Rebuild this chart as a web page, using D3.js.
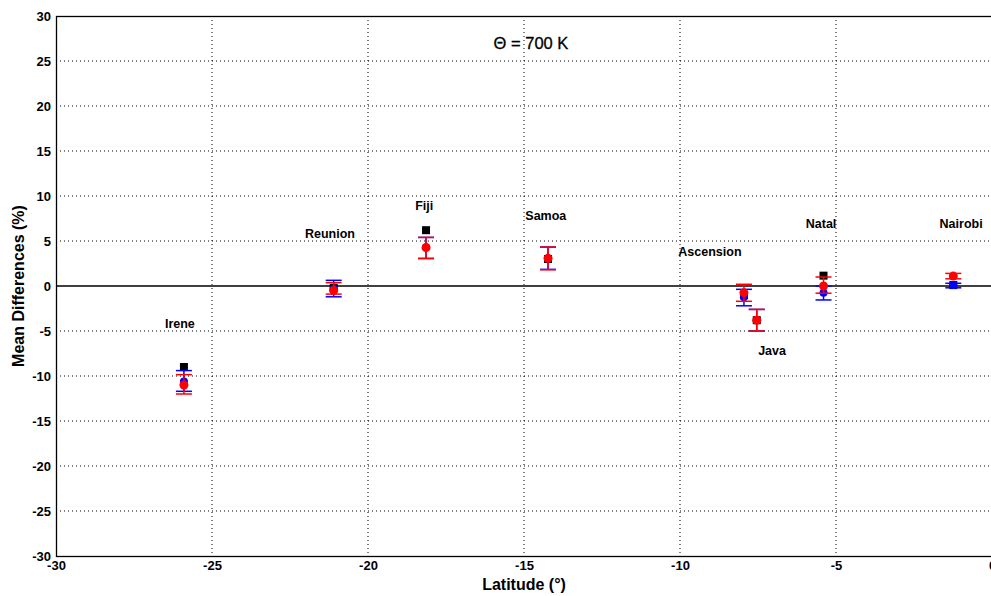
<!DOCTYPE html>
<html><head><meta charset="utf-8">
<script src="https://cdn.jsdelivr.net/npm/d3@7"></script>
<style>body{margin:0;background:#fff;}svg{display:block;}</style>
</head><body>
<svg id="c" width="991" height="596"></svg>
<script>
const stations = ["Irene","Reunion","Fiji","Samoa","Ascension","Java","Natal","Nairobi"];
const latitude = [-25.9,-21.1,-18.14,-14.23,-7.95,-7.54,-5.4,-1.24];
const blackVal = [-9.0,-0.2,6.2,3.0,-1.0,-3.8,1.15,0.1];
const blueVal = [-10.6,-0.33,4.3,3.05,-1.26,-3.8,-0.74,0.1];
const blueLo = [-11.7,-1.2,3.05,1.85,-2.2,-5.0,-1.55,-0.2];
const blueHi = [-9.4,0.63,5.4,4.33,-0.37,-2.6,0.0,0.3];
const redVal = [-11.0,-0.5,4.26,3.07,-0.74,-3.8,0.0,1.1];
const redLo = [-12.0,-0.9,3.07,1.8,-1.7,-5.0,-0.8,0.8];
const redHi = [-9.85,0.37,5.4,4.33,0.19,-2.6,1.0,1.4];
const labelPos = [[-26.03,-4.67],[-21.22,5.33],[-18.2,8.44],[-14.3,7.33],[-9.04,3.33],[-7.05,-7.67],[-5.48,6.44],[-0.99,6.44]];
const xTicks = [-30,-25,-20,-15,-10,-5,0];
const yTicks = [-30,-25,-20,-15,-10,-5,0,5,10,15,20,25,30];
const title = "\u0398 = 700 K";

const svg = d3.select("#c");
const m = {l:56, t:16, r:992, b:556};
const x = d3.scaleLinear().domain([-30,0]).range([m.l,m.r]);
const y = d3.scaleLinear().domain([-30,30]).range([m.b,m.t]);
const tickFont = "'Liberation Sans Narrow','Liberation Sans',Arial,sans-serif";

// grid
const g = svg.append("g");
g.selectAll(".gx").data(xTicks.slice(1,-1)).join("line")
  .attr("x1",d=>x(d)).attr("x2",d=>x(d)).attr("y1",m.t).attr("y2",m.b)
  .attr("stroke","#000").attr("stroke-width",1).attr("stroke-dasharray","1,3");
g.selectAll(".gy").data(yTicks.slice(1,-1).filter(d=>d!==0)).join("line")
  .attr("x1",m.l).attr("x2",m.r).attr("y1",d=>y(d)).attr("y2",d=>y(d))
  .attr("stroke","#000").attr("stroke-width",1).attr("stroke-dasharray","1,3");

// zero line
svg.append("line").attr("x1",m.l).attr("x2",m.r).attr("y1",y(0)).attr("y2",y(0))
  .attr("stroke","#000").attr("stroke-width",1.3);

// frame
svg.append("rect").attr("x",m.l+0.5).attr("y",m.t+0.5).attr("width",m.r-m.l).attr("height",m.b-m.t)
  .attr("fill","none").attr("stroke","#000").attr("stroke-width",1.3);

// axes
const fmt = d => String(d);
const xa = svg.append("g").attr("transform",`translate(0,${m.b})`)
  .call(d3.axisBottom(x).tickValues(xTicks).tickFormat(fmt).tickSize(0).tickPadding(5));
xa.select(".domain").remove();
xa.selectAll("text").attr("font-family",tickFont).attr("font-size",13).attr("font-weight","bold").attr("fill","#000");
const ya = svg.append("g").attr("transform",`translate(${m.l},0)`)
  .call(d3.axisLeft(y).tickValues(yTicks).tickFormat(fmt).tickSize(0).tickPadding(5));
ya.select(".domain").remove();
ya.selectAll("text").attr("font-family",tickFont).attr("font-size",13).attr("font-weight","bold").attr("fill","#000");

svg.append("text").attr("x",x(-15)).attr("y",590).attr("text-anchor","middle")
  .attr("font-family","Arial,'Liberation Sans',sans-serif").attr("font-weight","bold").attr("font-size",16)
  .text("Latitude (\u00B0)");
svg.append("text").attr("transform",`translate(24,${y(0)}) rotate(-90)`).attr("text-anchor","middle")
  .attr("font-family","Arial,'Liberation Sans',sans-serif").attr("font-weight","bold").attr("font-size",16)
  .text("Mean Differences (%)");

svg.append("text").attr("x",531).attr("y",49).attr("text-anchor","middle")
  .attr("font-family","Arial,'Liberation Sans',sans-serif").attr("font-size",16.5)
  .attr("stroke","#000").attr("stroke-width",0.3)
  .text(title);

// station labels
svg.selectAll(".lab").data(stations).join("text")
  .attr("x",(d,i)=>x(labelPos[i][0])).attr("y",(d,i)=>y(labelPos[i][1]))
  .attr("text-anchor","middle").attr("font-family","Arial,'Liberation Sans',sans-serif")
  .attr("font-weight","bold").attr("font-size",12.5).text(d=>d);

const idx = d3.range(stations.length);
// black squares
svg.selectAll(".sq").data(idx).join("rect")
  .attr("x",i=>x(latitude[i])-4).attr("y",i=>y(blackVal[i])-4).attr("width",8).attr("height",8).attr("fill","#000");

function errbars(lo,hi,val,color,r){
  const gg = svg.append("g").attr("stroke",color).attr("stroke-width",1.5);
  gg.selectAll(".v").data(idx).join("line")
    .attr("x1",i=>x(latitude[i])).attr("x2",i=>x(latitude[i])).attr("y1",i=>y(lo[i])).attr("y2",i=>y(hi[i]));
  gg.selectAll(".cl").data(idx).join("line")
    .attr("x1",i=>x(latitude[i])-8).attr("x2",i=>x(latitude[i])+8).attr("y1",i=>y(lo[i])).attr("y2",i=>y(lo[i]));
  gg.selectAll(".ch").data(idx).join("line")
    .attr("x1",i=>x(latitude[i])-8).attr("x2",i=>x(latitude[i])+8).attr("y1",i=>y(hi[i])).attr("y2",i=>y(hi[i]));
  svg.append("g").selectAll("circle").data(idx).join("circle")
    .attr("cx",i=>x(latitude[i])).attr("cy",i=>y(val[i])).attr("r",r).attr("fill",color);
}
errbars(blueLo,blueHi,blueVal,"#0000ff",4);
errbars(redLo,redHi,redVal,"#ff0000",4.5);
</script>
</body></html>
